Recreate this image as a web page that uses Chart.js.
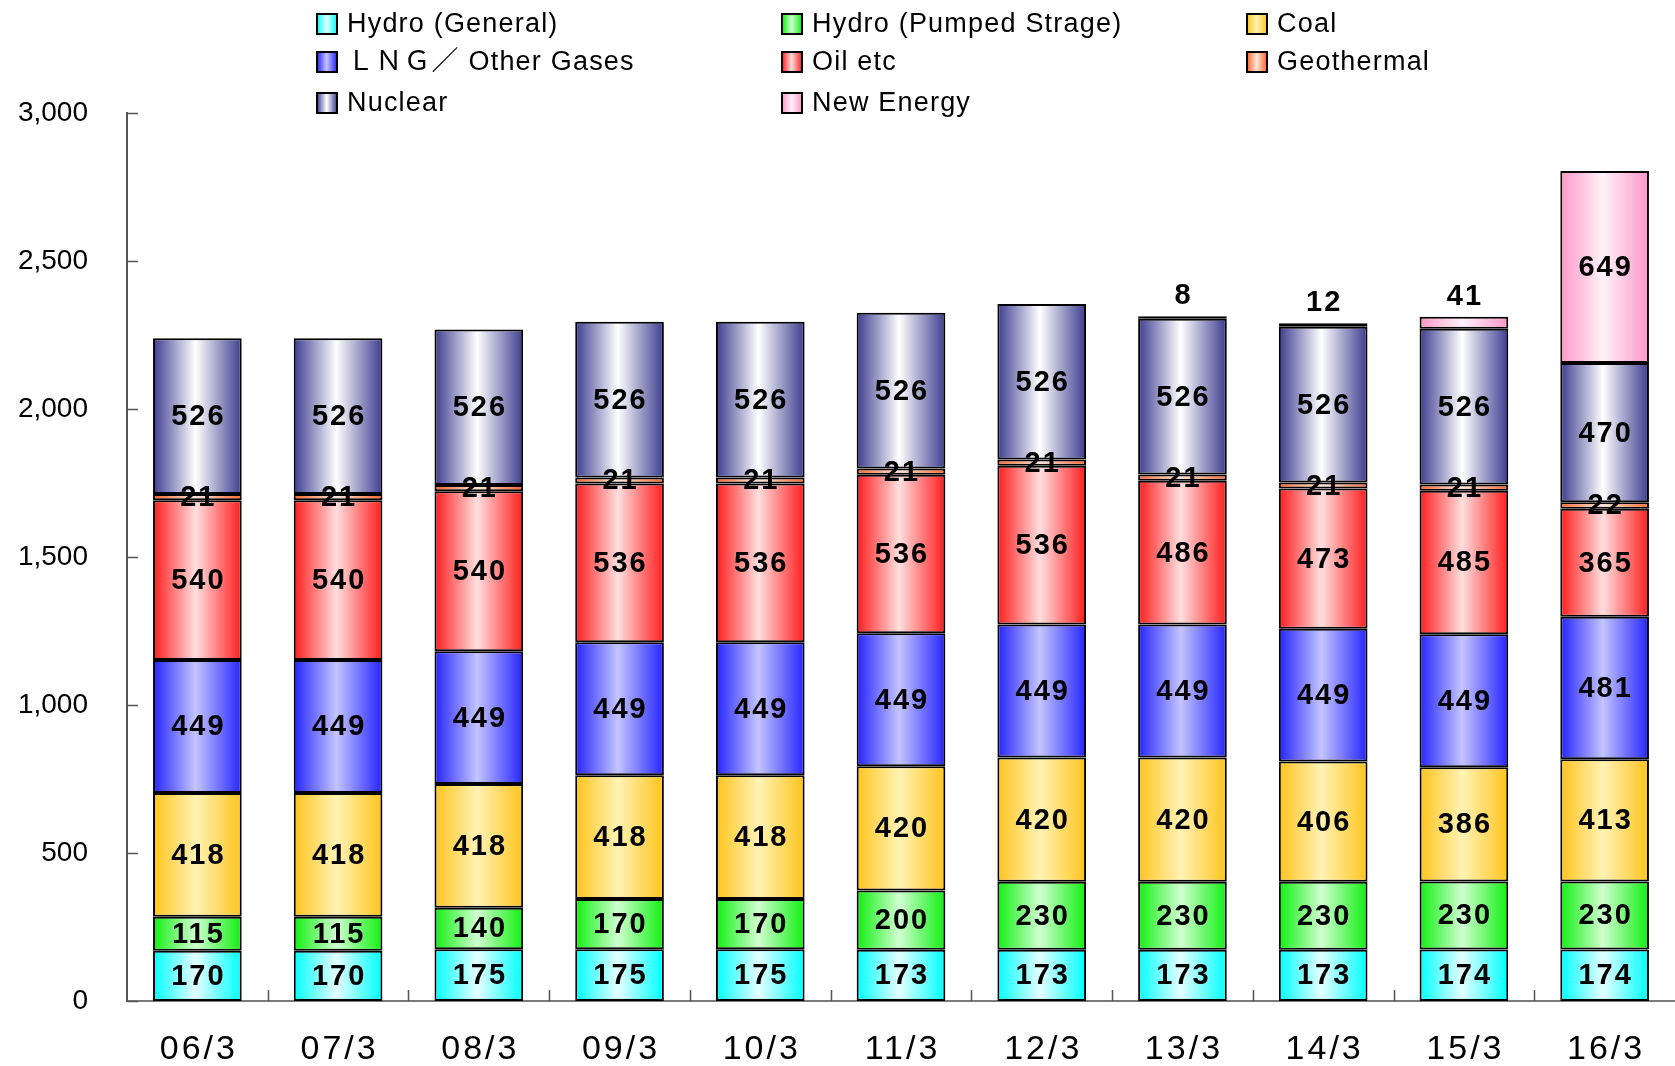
<!DOCTYPE html>
<html>
<head>
<meta charset="utf-8">
<script src="https://cdn.jsdelivr.net/npm/chart.js@4.4.1/dist/chart.umd.min.js"></script>
<style>
  html, body { margin: 0; padding: 0; background: #ffffff; overflow: hidden; }
  #wrap { width: 1675px; height: 1066px; position: relative; }
</style>
</head>
<body>
<div id="wrap"><canvas id="c"></canvas></div>
<script>
// ---- data ----
const categories = ['06/3','07/3','08/3','09/3','10/3','11/3','12/3','13/3','14/3','15/3','16/3'];
const hydroGeneral = [170,170,175,175,175,173,173,173,173,174,174];
const hydroPumped  = [115,115,140,170,170,200,230,230,230,230,230];
const coal         = [418,418,418,418,418,420,420,420,406,386,413];
const lngGas       = [449,449,449,449,449,449,449,449,449,449,481];
const oilEtc       = [540,540,540,536,536,536,536,486,473,485,365];
const geothermal   = [21,21,21,21,21,21,21,21,21,21,22];
const nuclear      = [526,526,526,526,526,526,526,526,526,526,470];
const newEnergy    = [null,null,null,null,null,null,null,8,12,41,649];
const seriesNames  = ['Hydro (General)','Hydro (Pumped Strage)','Coal','ＬＮＧ／ Other Gases','Oil etc','Geothermal','Nuclear','New Energy'];
const yMin = 0, yMax = 3000, yStep = 500;

// ---- styles ----
const edgeColors   = ['#00ffff','#10f010','#ffc41c','#2424ff','#ff1c1c','#ff6428','#3c3c90','#ff96c8'];
const centerColors = ['#e4ffff','#d0ffd0','#fff2b4','#c4c4ff','#ffdede','#ffe6dc','#ffffff','#fff2f8'];
const BAR_PCT = 0.63;

function grad(ctx2d, x0, x1, i) {
  const g = ctx2d.createLinearGradient(x0, 0, x1, 0);
  g.addColorStop(0, edgeColors[i]);
  g.addColorStop(0.48, centerColors[i]);
  g.addColorStop(1, edgeColors[i]);
  return g;
}

function barBg(i) {
  return (c) => {
    const chart = c.chart;
    const xs = chart.scales && chart.scales.x;
    if (!chart.chartArea || !xs || c.dataIndex === undefined) return edgeColors[i];
    const cx = xs.getPixelForValue(c.dataIndex);
    const half = xs.width / categories.length * BAR_PCT / 2;
    return grad(chart.ctx, cx - half, cx + half, i);
  };
}

const seriesData = [hydroGeneral, hydroPumped, coal, lngGas, oilEtc, geothermal, nuclear, newEnergy];

const datasets = seriesData.map((d, i) => ({
  label: seriesNames[i],
  data: d,
  backgroundColor: barBg(i),
  borderColor: '#000000',
  borderWidth: 2,
  borderSkipped: false,
  categoryPercentage: 1.0,
  barPercentage: BAR_PCT
}));

const FONT = '"Liberation Sans", Arial, "Noto Sans CJK JP", sans-serif';

// value labels
const valueLabels = {
  id: 'valueLabels',
  afterDatasetsDraw(chart) {
    const ctx = chart.ctx;
    ctx.save();
    ctx.font = 'bold 29px ' + FONT;
    ctx.letterSpacing = '2px';
    ctx.fillStyle = '#000';
    ctx.textAlign = 'center';
    ctx.textBaseline = 'middle';
    chart.data.datasets.forEach((ds, di) => {
      const meta = chart.getDatasetMeta(di);
      meta.data.forEach((el, j) => {
        const v = ds.data[j];
        if (v === null || v === undefined) return;
        let y = (el.y + el.base) / 2 + 1;
        if (di === seriesData.length - 1 && v < 100) y = el.y - 20;
        ctx.fillText(String(v), el.x + 1, y);
      });
    });
    ctx.restore();
  }
};

// inward tick marks + letter-spaced x labels
const innerTicks = {
  id: 'innerTicks',
  afterLayout(chart) {
    const xs = chart.scales.x;
    if (!xs._lsPatched) {
      const orig = xs.drawLabels.bind(xs);
      xs.drawLabels = function (area) {
        const ctx = this.ctx;
        ctx.save();
        ctx.letterSpacing = '3px';
        ctx.translate(1.5, 0);
        orig(area);
        ctx.restore();
      };
      xs._lsPatched = true;
    }
  },
  afterDraw(chart) {
    const ctx = chart.ctx;
    const xs = chart.scales.x, ys = chart.scales.y;
    const a = chart.chartArea;
    ctx.save();
    ctx.strokeStyle = '#555';
    ctx.lineWidth = 1.5;
    ctx.beginPath();
    ys.ticks.forEach((t) => {
      const y = Math.round(ys.getPixelForValue(t.value)) + 0.5;
      ctx.moveTo(a.left, y);
      ctx.lineTo(a.left + 11, y);
    });
    const cw = xs.width / categories.length;
    for (let i = 1; i < categories.length; i++) {
      const x = Math.round(a.left + cw * i) + 0.5;
      ctx.moveTo(x, a.bottom);
      ctx.lineTo(x, a.bottom - 11);
    }
    ctx.stroke();
    ctx.restore();
  }
};

// 3-column legend
const gridLegend = {
  id: 'gridLegend',
  afterDraw(chart) {
    const ctx = chart.ctx;
    const colX = [317, 782, 1247];
    const rowY = [24, 62, 103];
    const box = 20;
    ctx.save();
    ctx.font = '27px ' + FONT;
    ctx.letterSpacing = '1.2px';
    ctx.textBaseline = 'middle';
    ctx.textAlign = 'left';
    seriesNames.forEach((name, i) => {
      const x = colX[i % 3], y = rowY[Math.floor(i / 3)];
      ctx.fillStyle = grad(ctx, x, x + box, i);
      ctx.fillRect(x, y - box / 2, box, box);
      ctx.strokeStyle = '#000';
      ctx.lineWidth = 2;
      ctx.strokeRect(x, y - box / 2, box, box);
      ctx.fillStyle = '#000';
      ctx.fillText(name, x + box + 10, y + 1);
    });
    ctx.restore();
  }
};

new Chart(document.getElementById('c'), {
  type: 'bar',
  data: { labels: categories, datasets },
  options: {
    responsive: true,
    maintainAspectRatio: false,
    devicePixelRatio: 1,
    animation: false,
    layout: { padding: { top: 113, left: 18, right: -7, bottom: 0 } },
    plugins: { legend: { display: false }, tooltip: { enabled: false } },
    scales: {
      x: {
        stacked: true,
        grid: { display: false, drawTicks: false },
        border: { display: true, color: '#7a7a7a', width: 2 },
        ticks: { color: '#000', font: { family: FONT, size: 34, lineHeight: 1 }, padding: 32, maxRotation: 0 },
        afterFit(scale) { scale.height = 65; }
      },
      y: {
        stacked: true,
        min: yMin, max: yMax,
        grid: { display: false, drawTicks: false },
        border: { display: true, color: '#555', width: 2 },
        ticks: { stepSize: yStep, color: '#000', font: { family: FONT, size: 28 }, padding: 39 },
        afterFit(scale) { scale.width = 109; }
      }
    }
  },
  plugins: [valueLabels, innerTicks, gridLegend]
});
</script>
</body>
</html>
